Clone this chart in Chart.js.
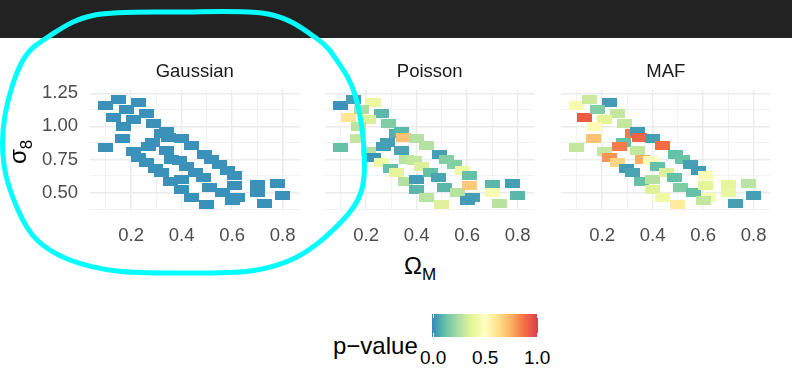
<!DOCTYPE html>
<html>
<head>
<meta charset="utf-8">
<script src="https://cdn.jsdelivr.net/npm/chart.js@4.4.0/dist/chart.umd.min.js"></script>
<style>
  body { margin:0; width:792px; height:373px; background:#fff; position:relative; overflow:hidden;
         font-family:"Liberation Sans", Arial, Helvetica, sans-serif; }
  #topbar { position:absolute; left:0; top:0; width:792px; height:38px; background:#222; }
  .panel { position:absolute; top:50px; }
  .lbl { position:absolute; white-space:nowrap; line-height:1; color:#000; }
  #cbar { position:absolute; left:432px; top:314px; width:106px; height:23px; }
  .tk { position:absolute; width:1px; height:4px; background:#fff; }
  #ring { position:absolute; left:0; top:0; pointer-events:none; }
</style>
</head>
<body>
<div id="topbar"></div>
<div class="panel" id="p1"><canvas id="c1"></canvas></div>
<div class="panel" id="p2"><canvas id="c2"></canvas></div>
<div class="panel" id="p3"><canvas id="c3"></canvas></div>

<div class="lbl" style="left:6px;top:148px;font-size:24px;transform:translate(-4px,-12px) rotate(-90deg);transform-origin:16px 12px;">σ<sub style="font-size:17px;">8</sub></div>
<div class="lbl" style="left:404px;top:254px;font-size:24px;">Ω<sub style="font-size:17px;">M</sub></div>

<div class="lbl" style="left:333px;top:334px;font-size:24px;">p−value</div>
<div id="cbar"></div>
<div class="lbl" id="cbl0" style="top:348px;font-size:19px;color:#000;">0.0</div>
<div class="lbl" id="cbl1" style="top:348px;font-size:19px;color:#000;">0.5</div>
<div class="lbl" id="cbl2" style="top:348px;font-size:19px;color:#000;">1.0</div>

<svg id="ring" width="792" height="373"></svg>

<script>
// ----------- DATA ------------
const facets = ['Gaussian', 'Poisson', 'MAF'];

const omegaM = [0.10, 0.15, 0.23, 0.13, 0.18, 0.26, 0.21, 0.17, 0.29, 0.32,
                0.34, 0.35, 0.40, 0.44, 0.165, 0.10, 0.285, 0.27, 0.34, 0.21,
                0.23, 0.26, 0.295, 0.32, 0.36, 0.39, 0.42, 0.355, 0.40, 0.40,
                0.44, 0.49, 0.52, 0.55, 0.58, 0.61, 0.455, 0.485, 0.51, 0.56,
                0.61, 0.62, 0.60, 0.50, 0.70, 0.70, 0.73, 0.78, 0.80];
const sigma8 = [1.16, 1.205, 1.18, 1.07, 1.125, 1.10, 1.05, 1.00, 1.02, 0.945,
                0.96, 0.915, 0.91, 0.855, 0.905, 0.84, 0.88, 0.85, 0.815, 0.81,
                0.765, 0.73, 0.685, 0.65, 0.75, 0.74, 0.70, 0.585, 0.60, 0.52,
                0.46, 0.785, 0.75, 0.71, 0.665, 0.63, 0.65, 0.615, 0.54, 0.50,
                0.55, 0.465, 0.44, 0.41, 0.56, 0.50, 0.42, 0.57, 0.48];

// p-values per facet (same point order as above)
const pGaussian = [0.02, 0.02, 0.02, 0.02, 0.02, 0.02, 0.02, 0.02, 0.02, 0.02,
                   0.02, 0.02, 0.02, 0.02, 0.02, 0.02, 0.02, 0.02, 0.02, 0.02,
                   0.02, 0.02, 0.02, 0.02, 0.02, 0.02, 0.02, 0.02, 0.02, 0.02,
                   0.02, 0.02, 0.02, 0.02, 0.02, 0.02, 0.02, 0.02, 0.02, 0.02,
                   0.02, 0.02, 0.02, 0.02, 0.02, 0.02, 0.02, 0.02, 0.02];
const pPoisson  = [0.02, 0.05, 0.40, 0.60, 0.25, 0.10, 0.35, 0.28, 0.17, 0.08,
                   0.10, 0.70, 0.27, 0.27, 0.30, 0.12, 0.05, 0.05, 0.06, 0.27,
                   0.03, 0.42, 0.12, 0.38, 0.28, 0.30, 0.35, 0.27, 0.04, 0.10,
                   0.28, 0.05, 0.18, 0.18, 0.42, 0.12, 0.12, 0.06, 0.10, 0.28,
                   0.68, 0.05, 0.04, 0.36, 0.10, 0.45, 0.28, 0.05, 0.10];
const pMAF      = [0.45, 0.32, 0.04, 0.92, 0.18, 0.30, 0.37, 0.52, 0.30, 0.85,
                   0.04, 0.90, 0.05, 0.88, 0.70, 0.30, 0.12, 0.85, 0.30, 0.30,
                   0.80, 0.65, 0.04, 0.06, 0.75, 0.48, 0.12, 0.12, 0.27, 0.36,
                   0.42, 0.12, 0.13, 0.05, 0.04, 0.47, 0.35, 0.12, 0.17, 0.12,
                   0.38, 0.45, 0.30, 0.58, 0.38, 0.40, 0.05, 0.28, 0.05];

const xTicks = [0.1, 0.2, 0.3, 0.4, 0.5, 0.6, 0.7, 0.8];
const xMajor = [0.2, 0.4, 0.6, 0.8];
const yTicks = [0.375, 0.5, 0.625, 0.75, 0.875, 1.0, 1.125, 1.25];
const yMajor = [0.5, 0.75, 1.0, 1.25];
const legendTicks = [0.0, 0.5, 1.0];

// spectral palette, p = 0 -> blue, p = 1 -> red
const spectral = ['#3288BD', '#66C2A5', '#ABDDA4', '#E6F598', '#FFFFBF',
                  '#FEE08B', '#FDAE61', '#F46D43', '#D53E4F'];

// ----------- HELPERS ------------
function hexRgb(h){
  return [parseInt(h.substr(1,2),16), parseInt(h.substr(3,2),16), parseInt(h.substr(5,2),16)];
}
function pColor(p){
  const t = Math.max(0, Math.min(1, p)) * (spectral.length - 1);
  const i = Math.min(Math.floor(t), spectral.length - 2);
  const f = t - i;
  const a = hexRgb(spectral[i]), b = hexRgb(spectral[i+1]);
  const c = a.map((v, k) => Math.round(v + (b[k] - v) * f));
  return 'rgb(' + c.join(',') + ')';
}
const tileCache = {};
function tile(col){
  if (!tileCache[col]) {
    const cv = document.createElement('canvas');
    cv.width = 15; cv.height = 9;
    const g = cv.getContext('2d');
    g.fillStyle = col;
    g.fillRect(0, 0, 15, 9);
    tileCache[col] = cv;
  }
  return tileCache[col];
}
function isMajor(v, majors){
  return majors.some(m => Math.abs(m - v) < 1e-6);
}

// facet strip title, centred over the plot area (not the whole canvas)
const facetTitle = {
  id: 'facetTitle',
  afterDraw(chart, args, opts){
    const a = chart.chartArea, ctx = chart.ctx;
    ctx.save();
    ctx.fillStyle = '#1A1A1A';
    ctx.font = '18.5px "Liberation Sans", Arial, sans-serif';
    ctx.textAlign = 'center';
    ctx.textBaseline = 'alphabetic';
    ctx.fillText(opts.text, (a.left + a.right) / 2, a.top - 13);
    ctx.restore();
  }
};

// ----------- CHARTS ------------
const panelLeft = [90, 325, 561];
const plotW = 222;
const axisFont = { family: '"Liberation Sans", Arial, sans-serif', size: 18.5 };

function makePanel(idx, pvals){
  const yw = idx === 0 ? 90 : 10;
  const W = yw + plotW, H = 199;
  const box = document.getElementById('p' + (idx+1));
  box.style.left = (panelLeft[idx] - yw) + 'px';
  box.style.width = W + 'px';
  box.style.height = H + 'px';
  const cv = document.getElementById('c' + (idx+1));
  cv.width = W; cv.height = H;
  cv.style.width = W + 'px'; cv.style.height = H + 'px';

  const pts = omegaM.map((x, i) => ({ x: x, y: sigma8[i] }));
  const cols = pvals.map(pColor);

  return new Chart(cv, {
    type: 'scatter',
    data: {
      datasets: [{
        data: pts,
        pointStyle: cols.map(tile),
        pointRadius: 6,
        pointHoverRadius: 6
      }]
    },
    plugins: [facetTitle],
    options: {
      responsive: false,
      animation: false,
      events: [],
      layout: { padding: { top: 40, left: 0, right: 0, bottom: 0 } },
      plugins: {
        legend: { display: false },
        tooltip: { enabled: false },
        title: { display: false },
        facetTitle: { text: facets[idx] }
      },
      scales: {
        x: {
          type: 'linear',
          min: 0.037, max: 0.867,
          afterBuildTicks: s => { s.ticks = xTicks.map(v => ({ value: v })); },
          afterFit: s => { s.height = 40; },
          border: { display: false },
          grid: {
            drawTicks: false,
            color: c => isMajor(c.tick.value, xMajor) ? '#EBEBEB' : '#F2F2F2',
            lineWidth: c => isMajor(c.tick.value, xMajor) ? 1.4 : 1
          },
          ticks: {
            padding: 16,
            maxRotation: 0,
            autoSkip: false,
            color: '#4D4D4D',
            font: axisFont,
            callback: v => isMajor(v, xMajor) ? v.toFixed(1) : ''
          }
        },
        y: {
          type: 'linear',
          min: 0.375, max: 1.275,
          afterBuildTicks: s => { s.ticks = yTicks.map(v => ({ value: v })); },
          afterFit: s => { s.width = yw; },
          border: { display: false },
          grid: {
            drawTicks: false,
            color: c => isMajor(c.tick.value, yMajor) ? '#EBEBEB' : '#F2F2F2',
            lineWidth: c => isMajor(c.tick.value, yMajor) ? 1.4 : 1
          },
          ticks: {
            display: idx === 0,
            padding: 12,
            autoSkip: false,
            color: '#4D4D4D',
            font: axisFont,
            callback: v => isMajor(v, yMajor) ? v.toFixed(2) : ''
          }
        }
      }
    }
  });
}

// ----------- LEGEND & ANNOTATION ------------
function buildLegend(){
  const bar = document.getElementById('cbar');
  const stops = spectral.map((c, i) => c + ' ' + (i / (spectral.length - 1) * 100).toFixed(1) + '%');
  bar.style.background = 'linear-gradient(to right,' + stops.join(',') + ')';
  const x0 = 433, x1 = 537;
  legendTicks.forEach((v, i) => {
    const x = x0 + (x1 - x0) * v;
    ['0px', '19px'].forEach(t => {
      const d = document.createElement('div');
      d.className = 'tk';
      d.style.left = (x - 432 - 0.5) + 'px';
      d.style.top = t;
      bar.appendChild(d);
    });
    const l = document.getElementById('cbl' + i);
    l.style.left = (x - l.offsetWidth / 2) + 'px';
  });
}

function drawRing(){
  const p = [[180,12],[268,14],[316,38],[338,62],[355,95],[364,150],[360,195],[333,230],
             [295,258],[250,271],[180,273],[117,271],[70,260],[37,240],[18,210],[4,165],
             [5,115],[22,62],[48,37],[95,15]];
  const n = p.length;
  let d = 'M' + p[0][0] + ',' + p[0][1];
  for (let i = 0; i < n; i++) {
    const p0 = p[(i - 1 + n) % n], p1 = p[i], p2 = p[(i + 1) % n], p3 = p[(i + 2) % n];
    const c1 = [p1[0] + (p2[0] - p0[0]) / 6, p1[1] + (p2[1] - p0[1]) / 6];
    const c2 = [p2[0] - (p3[0] - p1[0]) / 6, p2[1] - (p3[1] - p1[1]) / 6];
    d += ' C' + c1.join(',') + ' ' + c2.join(',') + ' ' + p2.join(',');
  }
  document.getElementById('ring').innerHTML =
    '<path d="' + d + 'Z" fill="none" stroke="#00FFFF" stroke-width="5"/>';
}

// ----------- MAIN ------------
function main(){
  makePanel(0, pGaussian);
  makePanel(1, pPoisson);
  makePanel(2, pMAF);
  buildLegend();
  drawRing();
}

document.addEventListener('DOMContentLoaded', function() {
  main();
});
</script>
</body>
</html>
